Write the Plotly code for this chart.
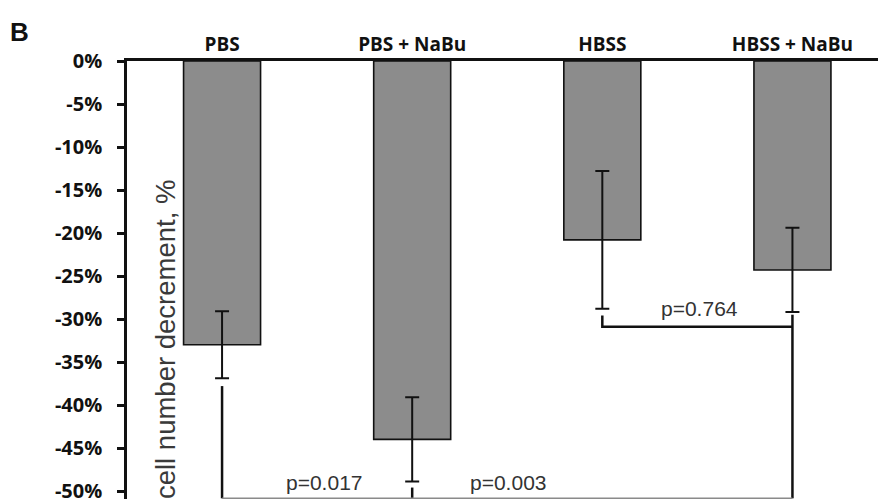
import plotly.graph_objects as go

# ---- data ----
categories = ["PBS", "PBS + NaBu", "HBSS", "HBSS + NaBu"]
means = [-33.0, -44.0, -20.8, -24.3]
errors = [3.9, 4.9, 8.0, 4.9]
y_ticks = [0, -5, -10, -15, -20, -25, -30, -35, -40, -45, -50]
y_tick_labels = [f"{v}%" for v in y_ticks]

# significance brackets: (x, y) polylines in data units
bracket_764_x = [2, 2, 3]
bracket_764_y = [-29.6, -30.9, -30.9]
drop_pbs_x = [0, 0]
drop_pbs_y = [-37.8, -50.85]
drop_pbsnabu_x = [1, 1]
drop_pbsnabu_y = [-49.6, -50.85]
drop_hbssnabu_x = [3, 3]
drop_hbssnabu_y = [-29.5, -50.85]
bottom_x = [0, 3]
bottom_y = [-50.85, -50.85]

p_labels = ["p=0.017", "p=0.003", "p=0.764"]
p_x = [0.537, 1.505, 2.511]
p_y = [-49.0, -49.0, -28.8]

x_idx = list(range(len(categories)))

fig = go.Figure()
fig.add_trace(go.Bar(
    x=x_idx, y=means, width=0.405,
    marker=dict(color="#8c8c8c", line=dict(color="#111111", width=1.6)),
    error_y=dict(type="data", array=errors, visible=True,
                 color="#111111", thickness=2, width=7),
    showlegend=False, hoverinfo="skip",
))

line_style = dict(color="#111111", width=2.5)
for xs, ys in [(bracket_764_x, bracket_764_y), (drop_pbs_x, drop_pbs_y),
               (drop_pbsnabu_x, drop_pbsnabu_y), (drop_hbssnabu_x, drop_hbssnabu_y)]:
    fig.add_trace(go.Scatter(x=xs, y=ys, mode="lines", line=line_style,
                             showlegend=False, hoverinfo="skip"))
fig.add_trace(go.Scatter(x=bottom_x, y=bottom_y, mode="lines",
                         line=dict(color="#8a8a8a", width=1.5),
                         showlegend=False, hoverinfo="skip"))

for t, xx, yy in zip(p_labels, p_x, p_y):
    fig.add_annotation(x=xx, y=yy, xref="x", yref="y", text=t, showarrow=False,
                       font=dict(family="Liberation Sans, Arial", size=21, color="#333333"))

# rotated y-axis title drawn inside the plot
fig.add_annotation(x=(148 - 127) / 751, y=0.364, xref="paper", yref="paper",
                   text="cell number decrement, %", textangle=-90, showarrow=False,
                   font=dict(family="Liberation Sans, Arial", size=27.5, color="#3a3a3a"))

# panel letter
fig.add_annotation(x=(8 - 127) / 751, y=(499 - 15) / 438, xref="paper", yref="paper",
                   text="<b>B</b>", showarrow=False, xanchor="left", yanchor="top",
                   font=dict(family="Liberation Sans, Arial", size=26, color="#111111"))

fig.update_layout(
    width=878, height=499,
    margin=dict(l=127, r=0, t=61, b=0, autoexpand=False),
    paper_bgcolor="white", plot_bgcolor="white",
    xaxis=dict(
        side="top", range=[-0.5, 3.45], automargin=False,
        tickmode="array", tickvals=x_idx, ticktext=categories,
        showline=True, linecolor="#111111", linewidth=2.5,
        ticks="", showgrid=False, zeroline=False,
        tickfont=dict(family="Open Sans", size=19, color="#111111", weight="bold"),
    ),
    yaxis=dict(
        range=[-50.93, 0], automargin=False,
        tickmode="array", tickvals=y_ticks, ticktext=y_tick_labels,
        showline=True, linecolor="#111111", linewidth=2.5,
        ticks="outside", ticklen=7, tickwidth=2.5, tickcolor="#111111",
        ticklabelstandoff=11, ticklabeloverflow="allow",
        showgrid=False, zeroline=False,
        tickfont=dict(family="Open Sans", size=20, color="#111111", weight="bold"),
    ),
)

fig.write_html("out.html")
